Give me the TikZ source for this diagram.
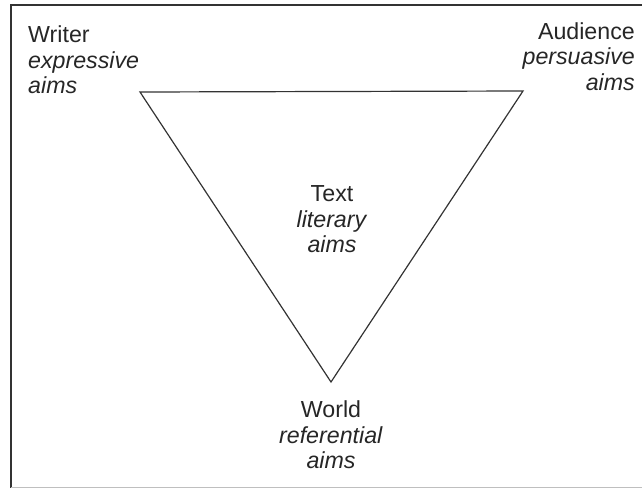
\documentclass[tikz,border=0pt]{standalone}
\usepackage{fontspec}
\setmainfont{Liberation Sans}
\begin{document}
\begin{tikzpicture}[x=1pt,y=-1pt,
  lbl/.style={inner sep=0pt, font=\fontsize{23.2}{25.6}\selectfont, text=black!85},
  tri/.style={draw=black!80, line width=1.2pt, line join=miter},
  frame/.style={draw=black!80, line width=2pt}]
\useasboundingbox (0,0) rectangle (642,488);
% frame
\coordinate (fTR) at (642,5);
\coordinate (fTL) at (11,5);
\coordinate (fBL) at (11,488);
\draw[frame] (fTR) -- (fTL) -- (fBL);
\coordinate (bL) at (11,487);
\coordinate (bR) at (642,487);
\draw[draw=black!25, line width=1pt] (bL) -- (bR);
% triangle
\coordinate (W) at (140,92);
\coordinate (A) at (523,91);
\coordinate (B) at (331,382);
\draw[tri] (W) -- (A) -- (B) -- cycle;
% labels
\node[lbl, anchor=north west, align=left] (writer) at (28,25.5) {Writer\\\textit{expressive}\\\textit{aims}};
\node[lbl, anchor=north east, align=right] (audience) at (635,22) {Audience\\\textit{persuasive}\\\textit{aims}};
\node[lbl, anchor=north, align=center] (text) at (332,185.5) {Text\\\textit{literary}\\\textit{aims}};
\node[lbl, anchor=north, align=center] (world) at (331,400.5) {World\\\textit{referential}\\\textit{aims}};
\end{tikzpicture}
\end{document}
